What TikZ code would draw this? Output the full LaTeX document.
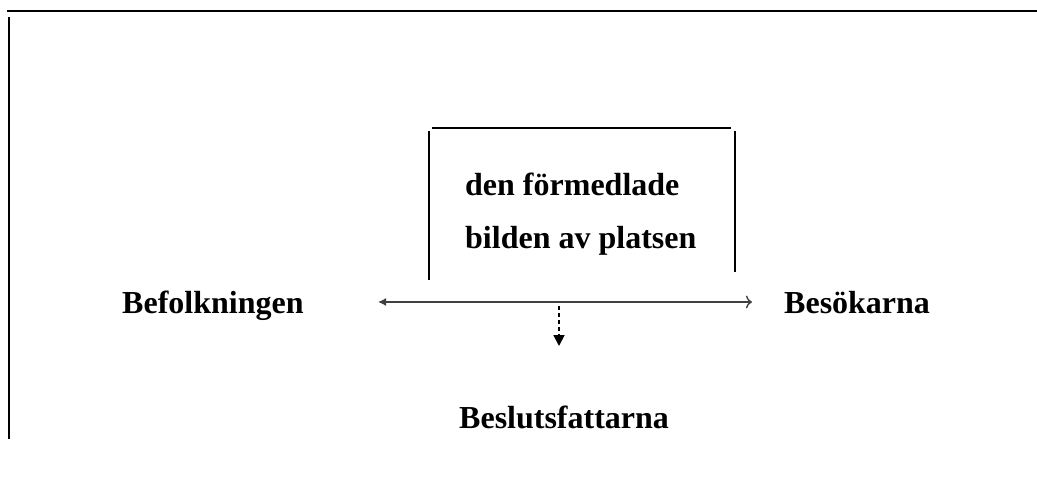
\documentclass[tikz,border=0pt]{standalone}
\usepackage{fontspec}
\setmainfont{Liberation Serif}
\usetikzlibrary{arrows.meta}
\tikzset{
  rule/.style={line width=1.2pt, black},
  label/.style={font=\fontsize{32}{38}\selectfont\bfseries, inner sep=0pt, anchor=base west},
  link/.style={line width=1.4pt, draw=black!75},
}
\begin{document}
\begin{tikzpicture}[x=1pt,y=-1pt]
  \useasboundingbox (0,0) rectangle (1037,477);
  % page frame
  \draw[rule] (7,11) -- (1037,11);
  \draw[rule] (9,17) -- (9,439);
  % open box around the central text
  \draw[rule] (432,128) -- (731,128);
  \draw[rule] (429,131) -- (429,280);
  \draw[rule] (735,131) -- (735,272);
  % texts
  \node[label] (bild1) at (465,195) {den förmedlade};
  \node[label] (bild2) at (465,248) {bilden av platsen};
  \node[label] (bef) at (122,313) {Befolkningen};
  \node[label] (bes) at (784,313) {Besökarna};
  \node[label] (bsl) at (459,428) {Beslutsfattarna};
  % connectors
  \coordinate (aL) at (378,302);
  \coordinate (aR) at (752,302);
  \coordinate (dT) at (559,306);
  \coordinate (dB) at (559,346);
  \draw[link, {Latex[length=8pt,width=8pt]}-{To[length=6pt,width=13pt]}] (aL) -- (aR);
  \draw[link, draw=black, line width=1.8pt, dash pattern=on 4pt off 3pt,
        -{Triangle[length=11pt,width=11pt]}] (dT) -- (dB);
\end{tikzpicture}
\end{document}
